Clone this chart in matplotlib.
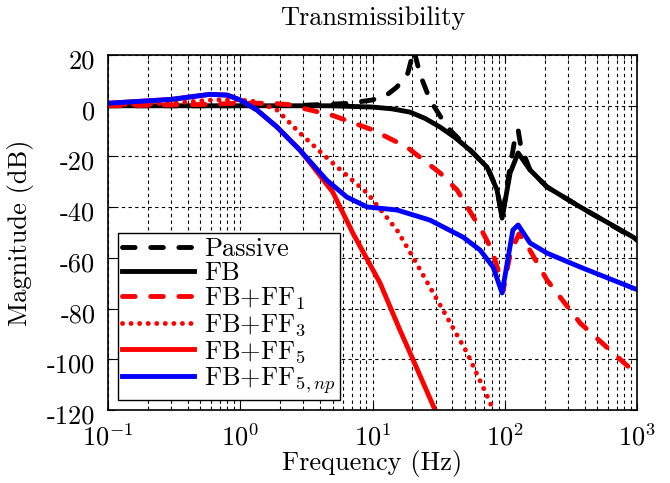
import numpy as np
import matplotlib
matplotlib.use('Agg')
import matplotlib.pyplot as plt
from matplotlib.ticker import LogLocator, NullFormatter
from matplotlib.transforms import ScaledTranslation

plt.rcParams['font.family'] = ['cmr10', 'DejaVu Serif']
plt.rcParams['mathtext.fontset'] = 'cm'
plt.rcParams['axes.formatter.use_mathtext'] = True
plt.rcParams['axes.unicode_minus'] = False

# curves (frequency in Hz, magnitude in dB)
f_passive = [0.1, 0.5, 1, 3, 6.4, 10, 13, 15.3, 18.5, 20.5, 23, 27.2, 36.6, 48.3,
             60, 75, 88, 95.3, 109.6, 120, 126, 132, 155, 208, 371, 1000]
db_passive = [0, 0, 0, 0.2, 0.9, 2.3, 4.5, 7.4, 12.9, 22, 12, 2.3, -8.4, -14.7,
              -19.5, -25, -33.5, -44.3, -24, -12, -9.5, -16, -25.3, -32, -39.9, -53]

f_fb = [0.1, 1, 4.8, 10, 14, 19.2, 25, 32.4, 42, 54.6, 73.4, 87.3, 95.3, 109.6, 126, 155,
        208, 371, 933, 1000]
db_fb = [0, 0, 0, -0.5, -1.2, -2.5, -5, -8.4, -12.5, -17.5, -24.2, -33.2, -44.3, -26.5, -18.6, -25.3,
         -32, -39.9, -51.8, -53]

f_ff1 = [0.1, 0.5, 1, 1.7, 2.3, 2.83, 5, 10, 18.2, 32.4, 43.5, 68.5, 80, 92, 97,
         110, 128, 140, 208, 371, 658, 1000]
db_ff1 = [0, 0.5, 1, 1, 0.5, -0.7, -3.8, -9.5, -16.3, -26.5, -33.2, -50.2, -57, -67.5, -73,
          -58, -50.5, -53, -68.7, -85.7, -97.5, -106]

f_ff3 = [0.1, 0.3, 0.62, 1, 1.34, 1.9, 2.83, 5, 9.1, 15.3, 20.2, 34.1, 51.9, 77.4, 82]
db_ff3 = [0.3, 1, 2.3, 2.3, 1.6, -1.7, -10.8, -22.6, -34.4, -49, -59.7, -80.6, -97.5,
          -117, -121]

f_ff5 = [0.1, 0.3, 0.59, 0.8, 1, 1.34, 1.9, 2.83, 3.55, 5, 7.1, 11.4, 16.1, 20.2, 29.7, 32]
db_ff5 = [1, 2.5, 4.5, 4.2, 2.3, -1.7, -8.4, -17.5, -24, -34, -50.2, -69.9, -88.4, -100,
          -120, -124]

f_np = [0.1, 0.3, 0.59, 0.8, 1, 1.34, 1.9, 2.83, 4.5, 6.4, 9.1, 15.3, 27.2, 48.3, 65,
        81.5, 95.3, 115, 126, 155, 208, 371, 933, 1000]
db_np = [1, 2.5, 4.5, 4.2, 2.3, -1.7, -8.4, -17.5, -29.3, -36, -39.9, -41.1, -45.1, -51.8,
         -56.9, -63.6, -73.8, -49, -47, -54.1, -58.1, -63.6, -71.9, -72.5]

yticks = [-120, -100, -80, -60, -40, -20, 0, 20]
labels = ['Passive', 'FB', 'FB+FF$_1$', 'FB+FF$_3$', 'FB+FF$_5$', 'FB+FF$_{5,np}$']

fig = plt.figure(figsize=(6.7, 4.83), dpi=100)
ax = fig.add_axes([0.161, 0.151, 0.790, 0.735])

lw = 3.5
ax.plot(f_passive, db_passive, color='k', lw=lw, dashes=(2.6, 3.2), dash_capstyle='round', label=labels[0])
ax.plot(f_fb, db_fb, color='k', lw=lw, label=labels[1])
ax.plot(f_ff1, db_ff1, color='r', lw=lw, dashes=(2.6, 3.2), dash_capstyle='round', label=labels[2])
ax.plot(f_ff3, db_ff3, color='r', lw=lw, dashes=(0.01, 1.75), dash_capstyle='round', label=labels[3])
ax.plot(f_ff5, db_ff5, color='r', lw=lw, label=labels[4])
ax.plot(f_np, db_np, color='b', lw=lw, label=labels[5])

ax.set_xscale('log')
ax.set_xlim(0.1, 1000)
ax.set_ylim(-120, 20)
ax.set_yticks(yticks)
ax.set_yticklabels([str(v) for v in yticks])
ax.xaxis.set_minor_locator(LogLocator(base=10, subs=np.arange(2, 10)))
ax.xaxis.set_minor_formatter(NullFormatter())

ax.grid(True, which='major', color='k', ls=(0, (3, 3)), lw=0.8)
ax.grid(True, which='minor', axis='x', color='k', ls=(0, (3, 3)), lw=0.8)
ax.tick_params(which='both', direction='in', top=True, right=True, labelsize=19)
ax.tick_params(axis='y', pad=9)
ax.tick_params(axis='x', pad=10)
ax.tick_params(which='major', length=5)
ax.tick_params(which='minor', length=3)
for s in ax.spines.values():
    s.set_linewidth(1.2)

# y tick labels sit a little below their ticks, as in the reference
shift = ScaledTranslation(0, -4 / 100, fig.dpi_scale_trans)
for lab in ax.get_yticklabels():
    lab.set_transform(lab.get_transform() + shift)

ax.set_title('Transmissibility', fontsize=19, pad=22)
ax.set_xlabel('Frequency (Hz)', fontsize=19)
ax.set_ylabel('Magnitude (dB)', fontsize=19)
ax.xaxis.set_label_coords(0.5, -0.112)
ax.yaxis.set_label_coords(-0.14, 0.5)

leg = ax.legend(loc='lower left', fontsize=19, fancybox=False, framealpha=1,
                edgecolor='k', handlelength=2.7, labelspacing=0.02, borderpad=0.15,
                handletextpad=0.4, borderaxespad=0.4)
leg.get_frame().set_linewidth(1.0)

fig.savefig('out.png', dpi=100)
